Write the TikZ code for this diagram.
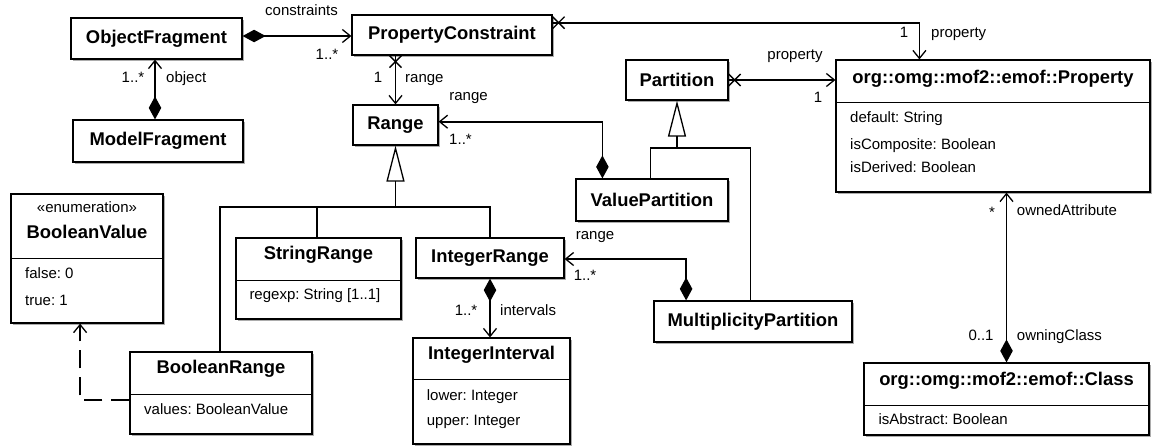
\documentclass[tikz,border=0pt]{standalone}
\usepackage{fontspec}
\setmainfont{Liberation Sans}
\usetikzlibrary{arrows.meta,shadows,calc}
\frenchspacing
\tikzset{
  cls/.style={draw, line width=1.2pt, fill=white,
    general shadow={shadow xshift=1.5pt, shadow yshift=-1.5pt, fill=gray!65},
    inner sep=0pt, font=\fontsize{18.4}{22}\selectfont\bfseries},
  hdr/.style={inner sep=0pt, font=\fontsize{18.4}{22}\selectfont\bfseries, anchor=mid},
  attr/.style={inner sep=0pt, font=\fontsize{15}{18}\selectfont, anchor=mid west},
  lbl/.style={inner sep=0pt, font=\fontsize{15}{18}\selectfont, anchor=mid},
  lbll/.style={lbl, anchor=mid west},
  sep/.style={line width=1.2pt},
  conn/.style={line width=1.6pt},
  comp/.style={arrows={Diamond[length=23pt,width=12.5pt]-Straight Barb[length=8pt,width=13pt,line width=1.3pt]}},
  nav/.style={arrows={-Straight Barb[length=8pt,width=13pt,line width=1.3pt]}},
  gen/.style={arrows={-Triangle[open,length=36pt,width=18pt,line width=1.3pt]}},
  xmk/.style={line width=1.3pt},
  dep/.style={dash pattern=on 18pt off 9pt}
}
\begin{document}
\begin{tikzpicture}[x=1pt,y=-1pt]
\useasboundingbox (0,0) rectangle (1158,445);

% simple classes
\node[cls, minimum width=171pt, minimum height=41pt] (of) at (156.5,38.5) {ObjectFragment};
\node[cls, minimum width=170pt, minimum height=42pt] (mf) at (158,141) {ModelFragment};
\node[cls, minimum width=200pt, minimum height=40pt] (pc) at (452,35) {PropertyConstraint};
\node[cls, minimum width=85pt, minimum height=40pt] (rg) at (395.5,125) {Range};
\node[cls, minimum width=102pt, minimum height=40pt] (part) at (677,80) {Partition};
\node[cls, minimum width=152pt, minimum height=42pt] (vp) at (652,200) {ValuePartition};
\node[cls, minimum width=148pt, minimum height=40pt] (ir) at (490,258) {IntegerRange};
\node[cls, minimum width=198pt, minimum height=41pt] (mp) at (753,321.5) {MultiplicityPartition};

% Property
\node[cls, minimum width=314pt, minimum height=132pt] (pr) at (993,126) {};
\draw[sep] ([yshift=-42.7pt]pr.north west) -- ([yshift=-42.7pt]pr.north east);
\node[hdr] (prh) at (993,80.7) {org::omg::mof2::emof::Property};
\node[attr] (pra) at (850,120) {default: String};
\node[attr] (prb) at (850,146.7) {isComposite: Boolean};
\node[attr] (prc) at (850,170) {isDerived: Boolean};

% BooleanValue
\node[cls, minimum width=152pt, minimum height=129pt] (bv) at (87,258.5) {};
\draw[sep] ([yshift=-65.3pt]bv.north west) -- ([yshift=-65.3pt]bv.north east);
\node[lbl] (bvs) at (87,210) {«enumeration»};
\node[hdr] (bvh) at (87,236) {BooleanValue};
\node[attr] (bva) at (25,276) {false: 0};
\node[attr] (bvb) at (25,302.7) {true: 1};

% StringRange
\node[cls, minimum width=165pt, minimum height=81pt] (sr) at (318.5,278.5) {};
\draw[sep] ([yshift=-42.7pt]sr.north west) -- ([yshift=-42.7pt]sr.north east);
\node[hdr] (srh) at (318.5,256.7) {StringRange};
\node[attr] (sra) at (249.3,296.7) {regexp: String [1..1]};

% IntegerInterval
\node[cls, minimum width=157pt, minimum height=106pt] (ii) at (491.5,391) {};
\draw[sep] ([yshift=-42pt]ii.north west) -- ([yshift=-42pt]ii.north east);
\node[hdr] (iih) at (491.5,357.3) {IntegerInterval};
\node[attr] (iia) at (426.7,398.3) {lower: Integer};
\node[attr] (iib) at (426.7,423.3) {upper: Integer};

% BooleanRange
\node[cls, minimum width=182pt, minimum height=82pt] (br) at (221,393) {};
\draw[sep] ([yshift=-43pt]br.north west) -- ([yshift=-43pt]br.north east);
\node[hdr] (brh) at (221,370.7) {BooleanRange};
\node[attr] (bra) at (144,411.7) {values: BooleanValue};

% Class
\node[cls, minimum width=285pt, minimum height=72pt] (cl) at (1006.5,399) {};
\draw[sep] ([yshift=-43pt]cl.north west) -- ([yshift=-43pt]cl.north east);
\node[hdr] (clh) at (1006.5,382.7) {org::omg::mof2::emof::Class};
\node[attr] (cla) at (878.3,421.7) {isAbstract: Boolean};

% compositions
\draw[conn, comp] ([yshift=2.5pt]of.east) -- ([yshift=2.5pt]of.east -| pc.west);
\draw[conn, comp] ([xshift=-1.5pt]of.south |- mf.north) -- ([xshift=-1.5pt]of.south);
\draw[conn, comp] ([xshift=27pt]vp.north west) |- ([yshift=3.3pt]rg.east);
\draw[conn, comp] ([xshift=32.7pt]mp.north west) |- ([yshift=-1pt]ir.east);
\draw[conn, comp] (ir.south) -- (ir.south |- ii.north);
\draw[conn, comp] (cl.north) -- (cl.north |- pr.south);

% navigable associations
\draw[conn, nav] ([yshift=12.3pt]pc.east) -| ([xshift=84pt]pr.north west);
\draw[conn, nav] (rg.north |- pc.south) -- (rg.north);
\draw[conn, nav] (part.east) -- (part.east -| pr.west);
\coordinate (x1) at ([xshift=6pt,yshift=12.3pt]pc.east);
\coordinate (x2) at ([yshift=-6pt]rg.north |- pc.south);
\coordinate (x3) at ([xshift=6pt]part.east);
\foreach \c in {x1,x2,x3}
  \draw[xmk] (\c) +(-6,-6) -- +(6,6) +(-6,6) -- +(6,-6);

% generalizations
\coordinate (pj) at (677,148);
\draw[conn, gen] (pj) -- (part.south);
\draw[conn] ([xshift=75pt]vp.north west) |- (pj) -| ([xshift=97pt]mp.north west);
\coordinate (rj) at (395.5,206.7);
\draw[conn, gen] (rj) -- (rg.south);
\draw[conn] ([xshift=90.7pt]br.north west) |- (rj) -| (ir.north);
\draw[conn] ([xshift=81.3pt]sr.north west) -- ([xshift=81.3pt]sr.north west |- rj);

% dependency
\draw[conn, dep, nav] ([yshift=-7pt]br.west) -| ([xshift=69.7pt]bv.south west);

% labels
\node[lbl] (l1) at (301.5,13) {constraints};
\node[lbl] (l2) at (327,57) {1..*};
\node[lbl] (l3) at (133,80) {1..*};
\node[lbll] (l4) at (166,80) {object};
\node[lbl] (l5) at (378,80) {1};
\node[lbll] (l6) at (405,80) {range};
\node[lbl] (l7) at (468.5,98) {range};
\node[lbl] (l8) at (460.5,141.7) {1..*};
\node[lbl] (l9) at (904,35) {1};
\node[lbll] (l10) at (931,35) {property};
\node[lbl] (l11) at (795,57) {property};
\node[lbl] (l12) at (818,100) {1};
\node[lbl] (l13) at (595,236.7) {range};
\node[lbl] (l14) at (585,278.3) {1..*};
\node[lbl] (l15) at (466,313.3) {1..*};
\node[lbll] (l16) at (500,313.3) {intervals};
\node[lbl] (l17) at (992,215) {*};
\node[lbll] (l18) at (1016.7,213) {ownedAttribute};
\node[lbl] (l19) at (981,338.3) {0..1};
\node[lbll] (l20) at (1016.7,338.3) {owningClass};
\end{tikzpicture}
\end{document}
